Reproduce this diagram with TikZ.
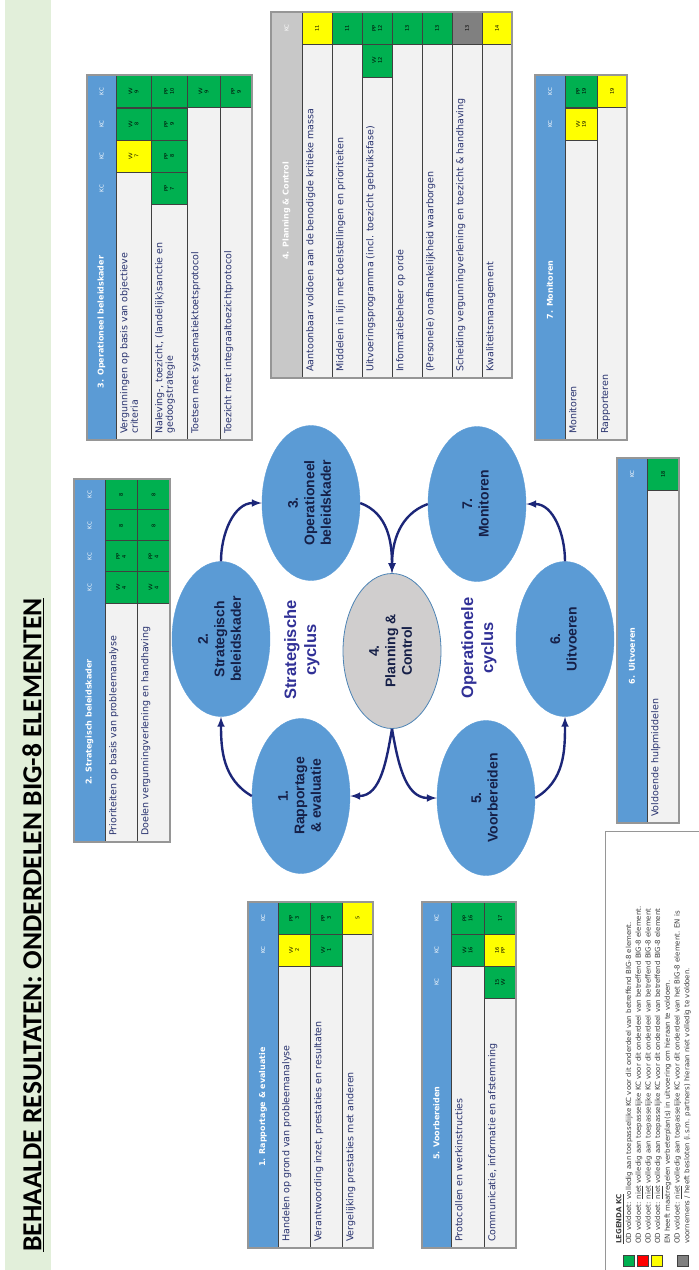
\documentclass[tikz,border=0pt]{standalone}
\usepackage{fontspec}
\setmainfont{Liberation Sans}
\newfontfamily\tabfont{DejaVu Sans}
\newfontfamily\slidetitlefont{Carlito}
\usetikzlibrary{shapes.geometric}

\definecolor{ovblue}{RGB}{91,155,213}
\definecolor{pcgray}{RGB}{208,206,206}
\definecolor{arrownavy}{RGB}{28,38,120}
\definecolor{cycletext}{RGB}{48,48,150}
\definecolor{elltext}{RGB}{22,32,72}
\definecolor{band}{RGB}{226,239,218}
\definecolor{kcgreen}{RGB}{0,176,80}
\definecolor{kcyellow}{RGB}{255,255,0}
\definecolor{kcred}{RGB}{255,0,0}
\definecolor{kcgray}{RGB}{128,128,128}
\definecolor{rowgray}{RGB}{242,242,242}
\definecolor{gridc}{RGB}{64,64,64}
\definecolor{framec}{RGB}{150,150,150}
\definecolor{hdrgray}{RGB}{200,200,200}
\definecolor{rowtext}{RGB}{40,50,110}
\definecolor{legc}{RGB}{60,60,60}

% text turned to read upwards, ellipse itself stays upright
\newcommand{\vlab}[1]{\rotatebox{90}{\begin{tabular}{@{}c@{}}#1\end{tabular}}}

\tikzstyle{ell}    = [ellipse, fill=ovblue, draw=ovblue, minimum width=98pt,
                      minimum height=155pt, inner sep=0pt, text=elltext,
                      font=\bfseries\fontsize{14}{16.5}\selectfont]
\tikzstyle{ellpc}  = [ell, fill=pcgray, draw=ovblue!85!black, line width=0.8pt]
\tikzstyle{cyclab} = [text=cycletext, font=\bfseries\fontsize{16.5}{20}\selectfont]
\tikzstyle{cyc}    = [draw=arrownavy, line width=2.4pt, -latex]
\tikzstyle{kc}     = [draw=gridc, line width=0.6pt, rotate=90, minimum width=32pt,
                      minimum height=32pt, inner sep=0pt, align=center,
                      font=\tabfont\fontsize{5}{6}\selectfont]
\tikzstyle{kcg}    = [kc, fill=kcgreen]
\tikzstyle{kcy}    = [kc, fill=kcyellow]
\tikzstyle{kcd}    = [kc, fill=kcgray]
\tikzstyle{kclab}  = [rotate=90, text=white, font=\tabfont\fontsize{5.5}{6}\selectfont]
\tikzstyle{hdr}    = [rotate=90, text=white, font=\tabfont\bfseries\fontsize{8}{9}\selectfont]
\tikzstyle{rowtxt} = [rotate=90, anchor=north west, inner sep=0pt, align=left,
                      text=rowtext, font=\tabfont\fontsize{9.5}{10.5}\selectfont]
\tikzstyle{gridline} = [draw=gridc, line width=0.6pt]
\tikzstyle{tabframe} = [draw=framec, line width=1.2pt]
\tikzstyle{legtxt} = [rotate=90, anchor=north west, inner sep=0pt, align=left,
                      text=legc, font=\tabfont\fontsize{7}{9.7}\selectfont]
\tikzstyle{legsq}  = [draw=gridc, line width=0.4pt, minimum size=11pt, inner sep=0pt]

\begin{document}
\begin{tikzpicture}[x=1pt,y=-1pt]
  \useasboundingbox (0,0) rectangle (699,1270);

  % title band
  \fill[band] (5,0) rectangle (51,1270);
  \node[rotate=90,font=\slidetitlefont\bfseries\fontsize{27.5}{31}\selectfont] (title) at (33,925)
       {\underline{BEHAALDE RESULTATEN: ONDERDELEN BIG-8 ELEMENTEN}};

  % the two cycles
  \node[ell]   (e1) at (301,796) {\vlab{1.\\Rapportage\\\& evaluatie}};
  \node[ell]   (e2) at (221,639) {\vlab{2.\\Strategisch\\beleidskader}};
  \node[ell]   (e3) at (311,503) {\vlab{3.\\Operationeel\\beleidskader}};
  \node[ellpc] (e4) at (392,651) {\vlab{4.\\Planning \&\\Control}};
  \node[ell]   (e5) at (486,798) {\vlab{5.\\Voorbereiden}};
  \node[ell]   (e6) at (565,639) {\vlab{6.\\Uitvoeren}};
  \node[ell]   (e7) at (477,504) {\vlab{7.\\Monitoren}};
  \node[cyclab] (strat) at (302,650) {\vlab{Strategische\\cyclus}};
  \node[cyclab] (oper)  at (479,648) {\vlab{Operationele\\cyclus}};

  \draw[cyc] (e1.west)  to[out=150,in=-90] (e2.south);
  \draw[cyc] (e2.north) to[out=90,in=180]  (e3.west);
  \draw[cyc] (e3.east)  to[out=-20,in=90]  (e4.north);
  \draw[cyc] (e7.west)  to[out=200,in=90]  (e4.north);
  \draw[cyc] (e4.south) to[out=-100,in=0]  (e1.east);
  \draw[cyc] (e4.south) to[out=-80,in=180] (e5.west);
  \draw[cyc] (e5.east)  to[out=30,in=-90]  (e6.south);
  \draw[cyc] (e6.north) to[out=90,in=0]    (e7.east);

  % 1. Rapportage & evaluatie
  \fill[ovblue] (248,902) rectangle (278,1248);
  \fill[rowgray] (278,902) rectangle (373,1248);
  \draw[gridline] (278,902) -- (278,1248) (310,902) -- (310,1248) (342,902) -- (342,1248);
  \node[kcg] (b1c11) at (294,918) {PP\\3};
  \node[kcy] (b1c12) at (294,950) {VV\\2};
  \node[kcg] (b1c21) at (326,918) {PP\\3};
  \node[kcg] (b1c22) at (326,950) {VV\\1};
  \node[kcy,minimum height=31pt] (b1c31) at (357.5,918) {5};
  \draw[tabframe] (248,902) rectangle (373,1248);
  \node[kclab] (b1k1) at (263,918) {KC};
  \node[kclab] (b1k2) at (263,950) {KC};
  \node[hdr] (b1t) at (263,1107) {1. Rapportage \& evaluatie};
  \node[rowtxt] (b1r1) at (282,1242) {Handelen op grond van probleemanalyse};
  \node[rowtxt] (b1r2) at (314,1242) {Verantwoording inzet, prestaties en resultaten};
  \node[rowtxt] (b1r3) at (346,1242) {Vergelijking prestaties met anderen};

  % 2. Strategisch beleidskader
  \fill[ovblue] (74,479) rectangle (105,842);
  \fill[rowgray] (105,479) rectangle (170,842);
  \draw[gridline] (105,479) -- (105,842) (137,479) -- (137,842);
  \node[kcg] (b2c11) at (121,494.5) {8};
  \node[kcg] (b2c12) at (121,525.5) {8};
  \node[kcg] (b2c13) at (121,556.5) {PP\\4};
  \node[kcg] (b2c14) at (121,587.5) {VV\\4};
  \node[kcg,minimum height=33pt] (b2c21) at (153.5,494.5) {8};
  \node[kcg,minimum height=33pt] (b2c22) at (153.5,525.5) {8};
  \node[kcg,minimum height=33pt] (b2c23) at (153.5,556.5) {PP\\4};
  \node[kcg,minimum height=33pt] (b2c24) at (153.5,587.5) {VV\\4};
  \draw[tabframe] (74,479) rectangle (170,842);
  \node[kclab] (b2k1) at (89.5,494.5) {KC};
  \node[kclab] (b2k2) at (89.5,525.5) {KC};
  \node[kclab] (b2k3) at (89.5,556.5) {KC};
  \node[kclab] (b2k4) at (89.5,587.5) {KC};
  \node[hdr] (b2t) at (89.5,722) {2. Strategisch beleidskader};
  \node[rowtxt] (b2r1) at (109,836) {Prioriteiten op basis van probleemanalyse};
  \node[rowtxt] (b2r2) at (141,836) {Doelen vergunningverlening en handhaving};

  % 3. Operationeel beleidskader
  \fill[ovblue] (87,75) rectangle (116,440);
  \fill[rowgray] (116,75) rectangle (252,440);
  \draw[gridline] (116,75) -- (116,440) (151,75) -- (151,440) (187,75) -- (187,440)
                  (220,75) -- (220,440);
  \node[kcg,minimum height=35pt] (b3c11) at (133.5,91.5) {VV\\9};
  \node[kcg,minimum height=35pt] (b3c12) at (133.5,124) {VV\\8};
  \node[kcy,minimum height=35pt] (b3c13) at (133.5,156) {VV\\7};
  \node[kcg,minimum height=36pt] (b3c21) at (169,91.5) {PP\\10};
  \node[kcg,minimum height=36pt] (b3c22) at (169,124) {PP\\9};
  \node[kcg,minimum height=36pt] (b3c23) at (169,156) {PP\\8};
  \node[kcg,minimum height=36pt] (b3c24) at (169,188.5) {PP\\7};
  \node[kcg,minimum height=33pt] (b3c31) at (203.5,91.5) {VV\\9};
  \node[kcg] (b3c41) at (236,91.5) {PP\\9};
  \draw[tabframe] (87,75) rectangle (252,440);
  \node[kclab] (b3k1) at (101.5,91.5) {KC};
  \node[kclab] (b3k2) at (101.5,124) {KC};
  \node[kclab] (b3k3) at (101.5,156) {KC};
  \node[kclab] (b3k4) at (101.5,188.5) {KC};
  \node[hdr] (b3t) at (101.5,322) {3. Operationeel beleidskader};
  \node[rowtxt] (b3r1) at (120,434) {Vergunningen op basis van objectieve\\criteria};
  \node[rowtxt] (b3r2) at (155,434) {Naleving-, toezicht, (landelijk)sanctie en\\gedoogstrategie};
  \node[rowtxt] (b3r3) at (191,434) {Toetsen met systematiektoetsprotocol};
  \node[rowtxt] (b3r4) at (224,434) {Toezicht met integraaltoezichtprotocol};

  % 4. Planning & Control
  \fill[hdrgray] (271,12) rectangle (302,378);
  \fill[rowgray] (302,12) rectangle (512,378);
  \draw[gridline] (302,12) -- (302,378) (332,12) -- (332,378) (362,12) -- (362,378)
                  (392,12) -- (392,378) (422,12) -- (422,378) (452,12) -- (452,378)
                  (482,12) -- (482,378);
  \node[kcy,minimum height=30pt] (b4c11) at (317,28) {11};
  \node[kcg,minimum height=30pt] (b4c21) at (347,28) {11};
  \node[kcg,minimum height=30pt] (b4c31) at (377,28) {PP\\12};
  \node[kcg,minimum height=30pt,minimum width=33pt] (b4c32) at (377,60.5) {VV\\12};
  \node[kcg,minimum height=30pt] (b4c41) at (407,28) {13};
  \node[kcg,minimum height=30pt] (b4c51) at (437,28) {13};
  \node[kcd,minimum height=30pt] (b4c61) at (467,28) {13};
  \node[kcy,minimum height=30pt] (b4c71) at (497,28) {14};
  \draw[tabframe] (271,12) rectangle (512,378);
  \node[kclab] (b4k1) at (286.5,28) {KC};
  \node[hdr] (b4t) at (286.5,211) {4. Planning \& Control};
  \node[rowtxt] (b4r1) at (306,372) {Aantoonbaar voldoen aan de benodigde kritieke massa};
  \node[rowtxt] (b4r2) at (336,372) {Middelen in lijn met doelstellingen en prioriteiten};
  \node[rowtxt] (b4r3) at (366,372) {Uitvoeringsprogramma (incl. toezicht gebruiksfase)};
  \node[rowtxt] (b4r4) at (396,372) {Informatiebeheer op orde};
  \node[rowtxt] (b4r5) at (426,372) {(Personele) onafhankelijkheid waarborgen};
  \node[rowtxt] (b4r6) at (456,372) {Scheiding vergunningverlening en toezicht \& handhaving};
  \node[rowtxt] (b4r7) at (486,372) {Kwaliteitsmanagement};

  % 5. Voorbereiden
  \fill[ovblue] (422,902) rectangle (451,1248);
  \fill[rowgray] (451,902) rectangle (516,1248);
  \draw[gridline] (451,902) -- (451,1248) (484,902) -- (484,1248);
  \node[kcg,minimum height=33pt] (b5c11) at (467.5,918) {PP\\16};
  \node[kcg,minimum height=33pt] (b5c12) at (467.5,950) {VV\\16};
  \node[kcg] (b5c21) at (500,918) {17};
  \node[kcy] (b5c22) at (500,950) {16\\PP};
  \node[kcg] (b5c23) at (500,982) {15\\VV};
  \draw[tabframe] (422,902) rectangle (516,1248);
  \node[kclab] (b5k1) at (436.5,918) {KC};
  \node[kclab] (b5k2) at (436.5,950) {KC};
  \node[kclab] (b5k3) at (436.5,982) {KC};
  \node[hdr] (b5t) at (436.5,1123) {5. Voorbereiden};
  \node[rowtxt] (b5r1) at (455,1242) {Protocollen en werkinstructies};
  \node[rowtxt] (b5r2) at (488,1242) {Communicatie, informatie en afstemming};

  % 6. Uitvoeren
  \fill[ovblue] (617,458) rectangle (647,823);
  \fill[rowgray] (647,458) rectangle (679,823);
  \draw[gridline] (647,458) -- (647,823);
  \node[kcg] (b6c11) at (663,474) {18};
  \draw[tabframe] (617,458) rectangle (679,823);
  \node[kclab] (b6k1) at (632,474) {KC};
  \node[hdr] (b6t) at (632,656) {6. Uitvoeren};
  \node[rowtxt] (b6r1) at (651,817) {Voldoende hulpmiddelen};

  % 7. Monitoren
  \fill[ovblue] (535,75) rectangle (565,440);
  \fill[rowgray] (565,75) rectangle (627,440);
  \draw[gridline] (565,75) -- (565,440) (597,75) -- (597,440);
  \node[kcg] (b7c11) at (581,91.5) {PP\\19};
  \node[kcy] (b7c12) at (581,124) {VV\\19};
  \node[kcy,minimum height=30pt] (b7c21) at (612,91.5) {19};
  \draw[tabframe] (535,75) rectangle (627,440);
  \node[kclab] (b7k1) at (550,91.5) {KC};
  \node[kclab] (b7k2) at (550,124) {KC};
  \node[hdr] (b7t) at (550,290) {7. Monitoren};
  \node[rowtxt] (b7r1) at (569,434) {Monitoren};
  \node[rowtxt] (b7r2) at (601,434) {Rapporteren};

  % legenda
  \draw[draw=framec,line width=0.8pt] (699,831) -- (605,831) -- (605,1270);
  \node[legtxt] (leg) at (616,1244) {\textbf{\underline{LEGENDA KC}}\\
    OD voldoet: volledig aan toepasselijke KC voor dit onderdeel van betreffend BIG-8 element.\\
    OD voldoet: \underline{niet} volledig aan toepasselijke KC voor dit onderdeel van betreffend BIG-8 element.\\
    OD voldoet: \underline{niet} volledig aan toepasselijke KC voor dit onderdeel van betreffend BIG-8 element\\
    OD voldoet: \underline{niet} volledig aan toepasselijke KC voor dit onderdeel van betreffend BIG-8 element\\
    EN heeft maatregelen verbeterplan(s) in uitvoering om hieraan te voldoen.\\
    OD voldoet: \underline{niet} volledig aan toepasselijke KC voor dit onderdeel van het BIG-8 element. EN is\\
    voornemens / heeft besloten (i.s.m. partners) hieraan niet volledig te voldoen.};
  \node[legsq,fill=kcgreen]  (lsg) at (629,1261) {};
  \node[legsq,fill=kcred]    (lsr) at (642.5,1261) {};
  \node[legsq,fill=kcyellow] (lsy) at (656.5,1261) {};
  \node[legsq,fill=kcgray]   (lsd) at (683,1261) {};
\end{tikzpicture}
\end{document}
